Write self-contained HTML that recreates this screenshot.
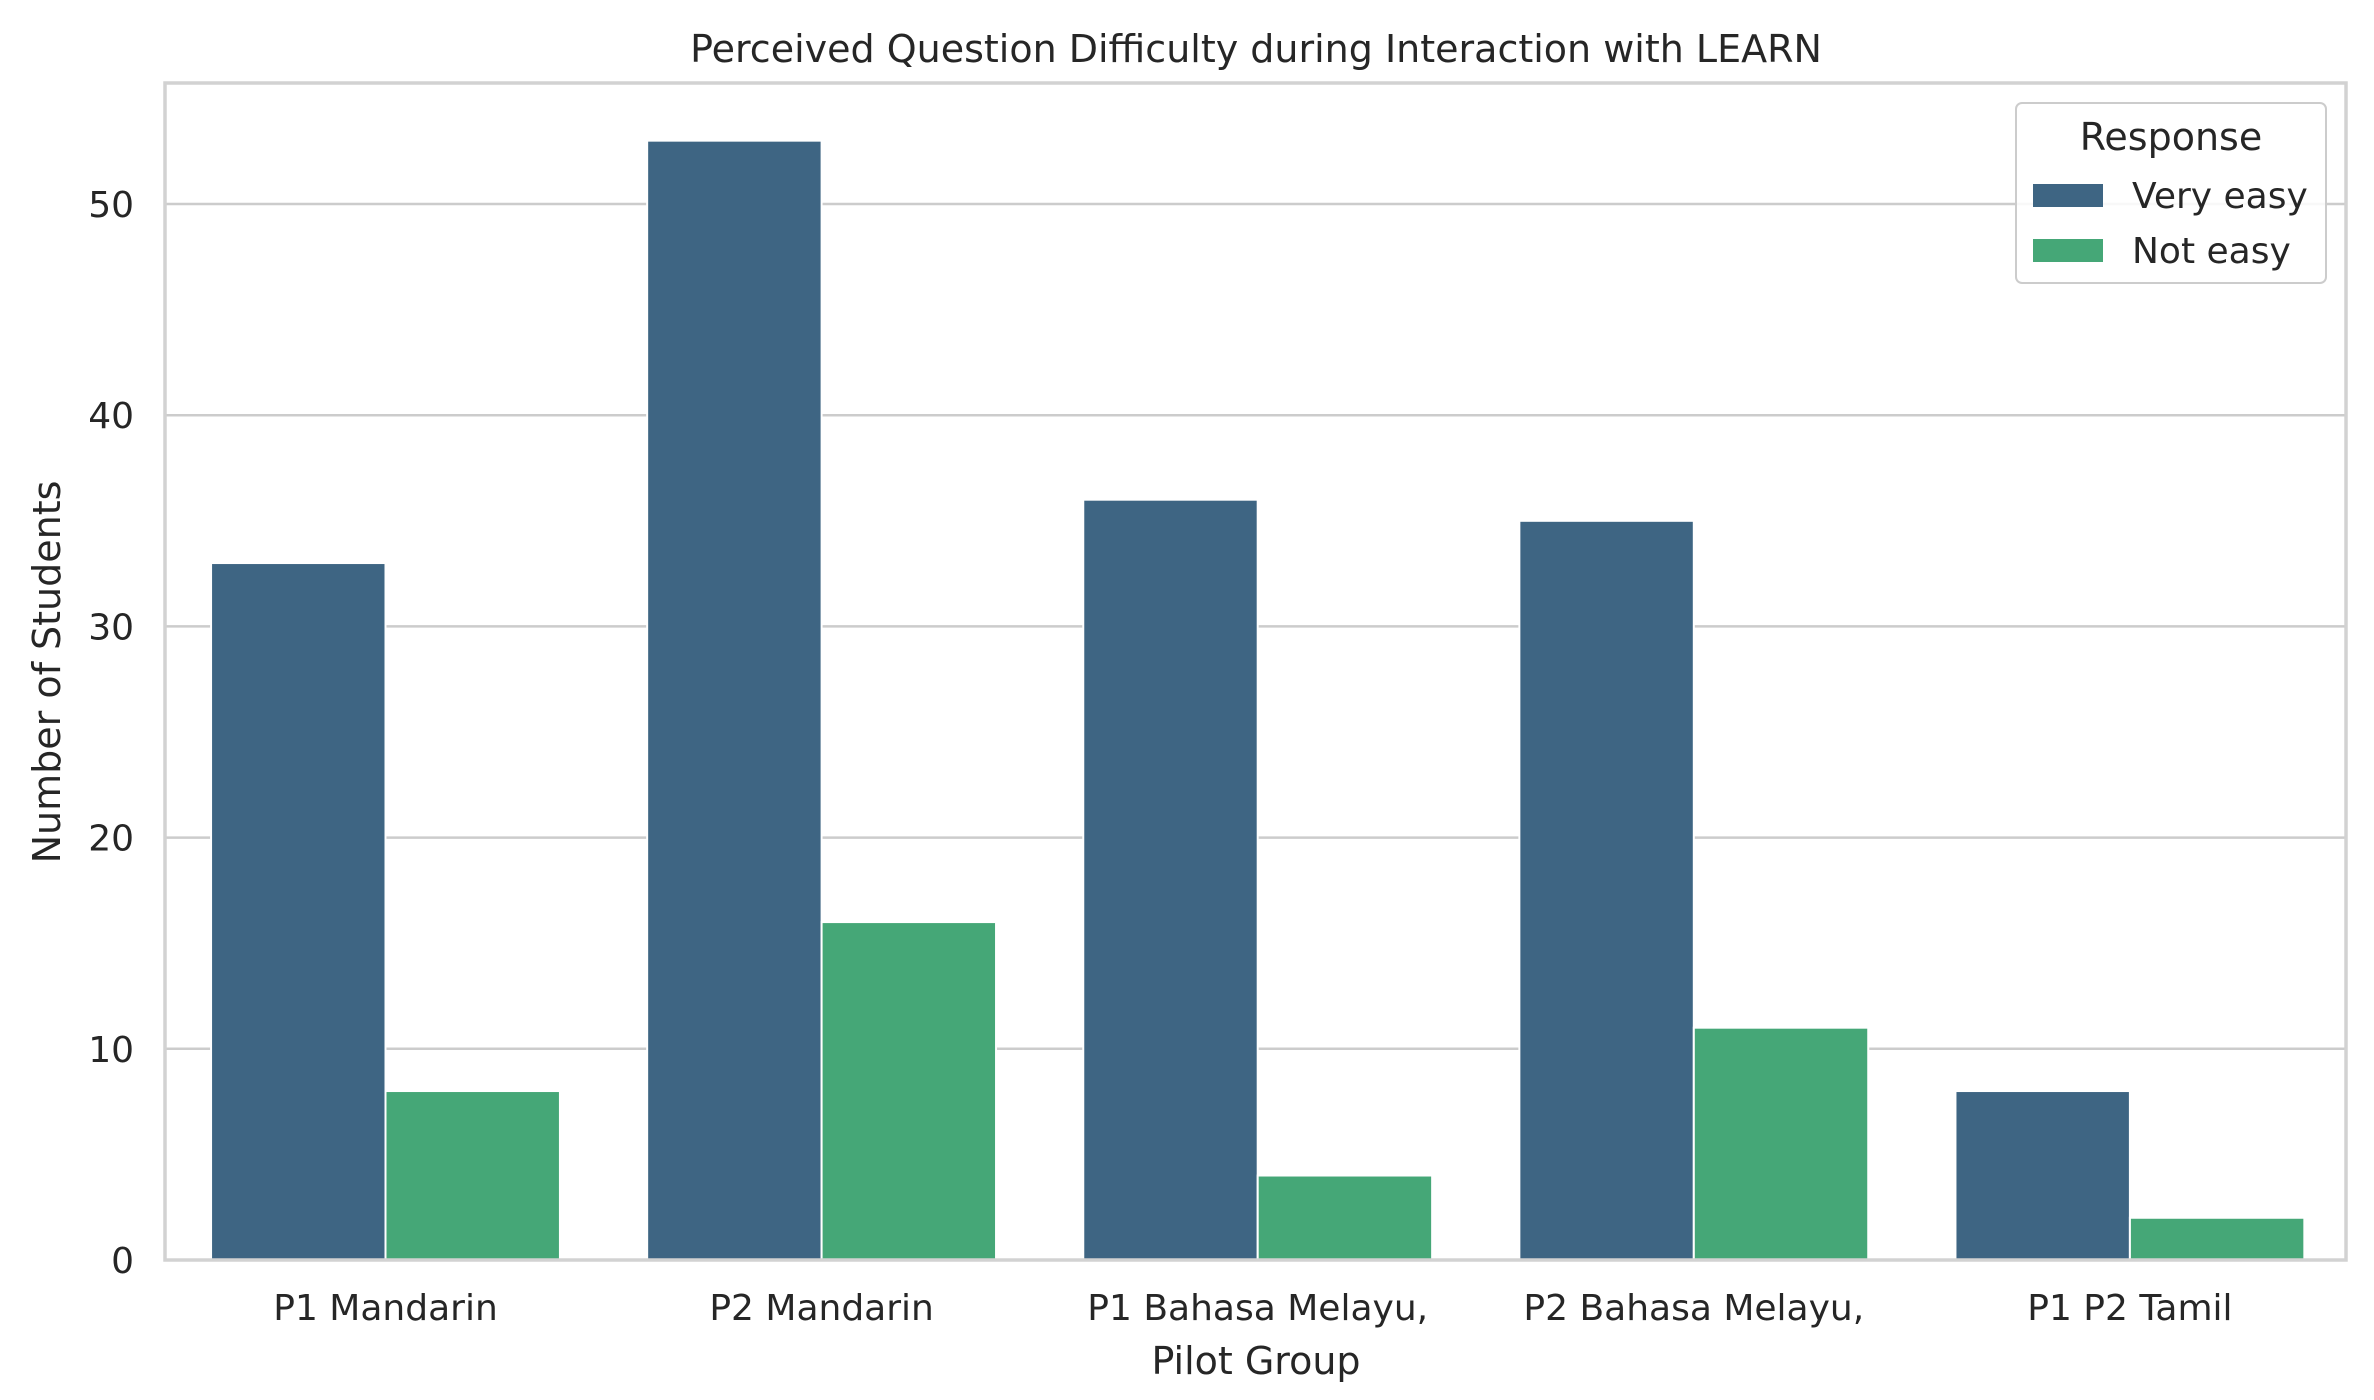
<!DOCTYPE html>
<html><head><meta charset="utf-8"><style>
html,body{margin:0;padding:0;background:#fff;}
svg{display:block;font-family:"DejaVu Sans","Liberation Sans",sans-serif;}
</style></head><body>
<svg id="chart" width="2374" height="1400" viewBox="0 0 2374 1400" xmlns="http://www.w3.org/2000/svg">
<text x="1256" y="62" text-anchor="middle" font-size="38" fill="#262626">Perceived Question Difficulty during Interaction with LEARN</text>
<g id="grid"></g>
<g id="bars"></g>
<rect x="165" y="83" width="2181" height="1177" fill="none" stroke="#d2d2d2" stroke-width="3.5"/>
<g id="yticks"></g>
<g id="xticks"></g>
<text x="1256" y="1374" text-anchor="middle" font-size="38" fill="#262626">Pilot Group</text>
<text transform="translate(60,672) rotate(-90)" text-anchor="middle" font-size="38" fill="#262626">Number of Students</text>
<g>
<rect x="2016" y="103" width="310" height="180" rx="6" fill="#fff" fill-opacity="0.85" stroke="#cccccc" stroke-width="2"/>
<text x="2171" y="150" text-anchor="middle" font-size="38" fill="#262626">Response</text>
<rect x="2033" y="184" width="70" height="23" fill="#3e6583"/>
<text x="2132" y="208" font-size="36" fill="#262626">Very easy</text>
<rect x="2033" y="239" width="70" height="23" fill="#45a777"/>
<text x="2132" y="263" font-size="36" fill="#262626">Not easy</text>
</g>
</svg>
<script>
const categories = ["P1 Mandarin", "P2 Mandarin", "P1 Bahasa Melayu,", "P2 Bahasa Melayu,", "P1 P2 Tamil"];
const veryEasy = [33, 53, 36, 35, 8];
const notEasy = [8, 16, 4, 11, 2];
const yTicks = [0, 10, 20, 30, 40, 50];
const seriesNames = ["very-easy", "not-easy"];

const NS = "http://www.w3.org/2000/svg";
const L = 165, R = 2346, T = 83, B = 1260, yMax = 55.73;
function yScale(v){ return B - v / yMax * (B - T); }
const bandW = 436.1;
const firstCenter = 385.5;
function xCenter(i){ return firstCenter + bandW * i; }
const barW = bandW * 0.8 / 2;

const grid = document.getElementById('grid');
const yt = document.getElementById('yticks');
yTicks.forEach(t => {
  const y = yScale(t);
  const ln = document.createElementNS(NS, 'line');
  
  
  ln.setAttribute('x1', L); ln.setAttribute('x2', R);
  ln.setAttribute('y1', y); ln.setAttribute('y2', y);
  ln.setAttribute('stroke', '#cccccc'); ln.setAttribute('stroke-width', '2.5');
  grid.appendChild(ln);
  const tx = document.createElementNS(NS, 'text');
  
  
  tx.setAttribute('x', 134); tx.setAttribute('y', y + 13);
  tx.setAttribute('text-anchor', 'end'); tx.setAttribute('font-size', '36');
  tx.setAttribute('fill', '#262626');
  tx.textContent = t;
  yt.appendChild(tx);
});

const bars = document.getElementById('bars');
const colors = ["#3e6583", "#45a777"];
[veryEasy, notEasy].forEach((series, s) => {
  series.forEach((v, i) => {
    const x = xCenter(i) - barW + s * barW;
    const r = document.createElementNS(NS, 'rect');
    
    
    r.setAttribute('x', x); r.setAttribute('width', barW);
    r.setAttribute('y', yScale(v)); r.setAttribute('height', B - yScale(v));
    r.setAttribute('fill', colors[s]); r.setAttribute('stroke', '#ffffff'); r.setAttribute('stroke-width', '2');
    bars.appendChild(r);
  });
});

const xt = document.getElementById('xticks');
categories.forEach((c, i) => {
  const tx = document.createElementNS(NS, 'text');
  
  
  tx.setAttribute('x', xCenter(i)); tx.setAttribute('y', 1320);
  tx.setAttribute('text-anchor', 'middle'); tx.setAttribute('font-size', '36');
  tx.setAttribute('fill', '#262626');
  tx.textContent = c;
  xt.appendChild(tx);
});
</script>
</body></html>
